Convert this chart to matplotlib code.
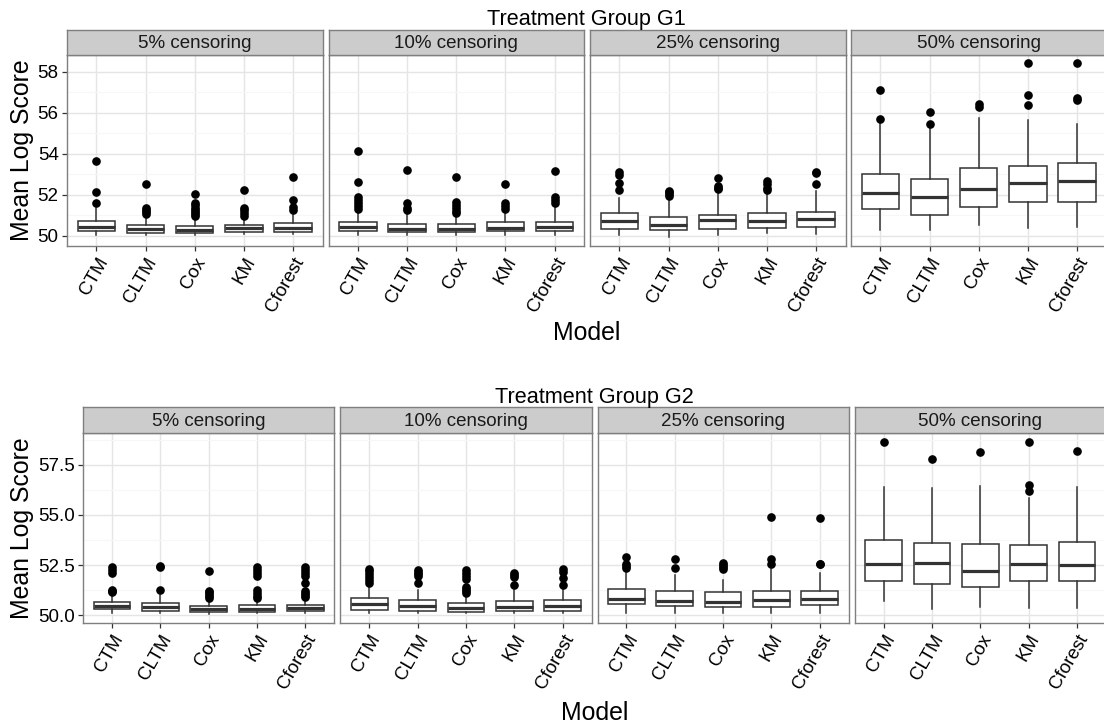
import matplotlib
matplotlib.use("Agg")
import matplotlib.pyplot as plt

plt.rcParams['font.family'] = ['Liberation Sans', 'DejaVu Sans']

# ---------------- data ----------------
models = ["CTM", "CLTM", "Cox", "KM", "Cforest"]
censoring = ["5% censoring", "10% censoring", "25% censoring", "50% censoring"]
group_titles = ["Treatment Group G1", "Treatment Group G2"]

# Treatment group G1: one inner list per censoring level, one value per model
g1_q1 = [[50.22, 50.14, 50.13, 50.18, 50.20],
         [50.24, 50.17, 50.17, 50.23, 50.21],
         [50.34, 50.28, 50.31, 50.39, 50.41],
         [51.29, 51.00, 51.39, 51.64, 51.64]]
g1_med = [[50.43, 50.33, 50.29, 50.37, 50.39],
          [50.44, 50.33, 50.33, 50.39, 50.41],
          [50.73, 50.54, 50.77, 50.73, 50.81],
          [52.07, 51.89, 52.26, 52.56, 52.68]]
g1_q3 = [[50.72, 50.52, 50.46, 50.50, 50.60],
         [50.68, 50.57, 50.57, 50.65, 50.68],
         [51.12, 50.90, 51.02, 51.12, 51.16],
         [53.02, 52.77, 53.30, 53.40, 53.53]]
g1_lo = [[50.05, 50.06, 50.05, 50.08, 50.07],
         [50.03, 50.03, 50.03, 50.03, 50.03],
         [50.02, 49.95, 50.02, 50.12, 50.07],
         [50.28, 50.28, 50.51, 50.39, 50.44]]
g1_hi = [[51.35, 50.98, 50.86, 50.85, 51.15],
         [51.20, 51.05, 51.00, 51.20, 51.45],
         [51.85, 51.74, 52.02, 52.10, 52.17],
         [55.62, 55.40, 55.73, 55.64, 55.43]]
g1_out = [[[51.58, 52.15, 53.65],
           [51.05, 51.15, 51.25, 51.35, 52.50],
           [50.95, 51.05, 51.15, 51.25, 51.35, 51.50, 51.60, 52.05],
           [50.95, 51.10, 51.25, 51.35, 52.25],
           [51.28, 51.40, 51.75, 52.87]],
          [[51.30, 51.45, 51.60, 51.75, 51.90, 52.63, 54.15],
           [51.25, 51.35, 51.60, 53.22],
           [51.10, 51.20, 51.35, 51.50, 51.65, 52.88],
           [51.30, 51.45, 51.60, 52.54],
           [51.60, 51.75, 51.90, 53.17]],
          [[52.23, 52.59, 52.96, 53.12],
           [51.95, 52.05, 52.15, 52.20],
           [52.30, 52.35, 52.45, 52.83],
           [52.25, 52.35, 52.50, 52.65],
           [52.52, 53.04, 53.10]],
          [[55.71, 57.12],
           [55.47, 56.05],
           [56.30, 56.42],
           [56.39, 56.86, 58.44],
           [56.62, 56.72, 58.41]]]

# Treatment group G2
g2_q1 = [[50.30, 50.23, 50.16, 50.18, 50.21],
         [50.26, 50.21, 50.15, 50.21, 50.23],
         [50.56, 50.45, 50.40, 50.43, 50.50],
         [51.71, 51.54, 51.42, 51.72, 51.72]]
g2_med = [[50.46, 50.40, 50.30, 50.33, 50.38],
          [50.55, 50.48, 50.38, 50.43, 50.48],
          [50.80, 50.73, 50.65, 50.76, 50.81],
          [52.57, 52.59, 52.23, 52.54, 52.50]]
g2_q3 = [[50.66, 50.60, 50.46, 50.50, 50.53],
         [50.85, 50.76, 50.60, 50.71, 50.76],
         [51.29, 51.21, 51.15, 51.21, 51.23],
         [53.73, 53.62, 53.57, 53.50, 53.63]]
g2_lo = [[50.13, 50.10, 50.08, 50.10, 50.10],
         [50.10, 50.10, 50.10, 50.10, 50.10],
         [50.13, 50.10, 50.10, 50.13, 50.13],
         [50.71, 50.30, 50.43, 50.38, 50.35]]
g2_hi = [[51.09, 51.00, 50.76, 50.80, 50.82],
         [51.42, 51.26, 51.01, 51.26, 51.42],
         [52.09, 52.00, 51.76, 52.30, 52.09],
         [56.40, 56.35, 56.44, 55.83, 56.40]]
g2_out = [[[51.17, 51.22, 51.27, 52.10, 52.25, 52.42],
           [51.24, 52.38, 52.44],
           [50.85, 50.95, 51.05, 51.15, 51.22, 52.22],
           [50.87, 50.95, 51.10, 51.25, 51.95, 52.10, 52.25, 52.40],
           [50.90, 51.00, 51.10, 51.20, 51.59, 51.95, 52.10, 52.25, 52.40]],
          [[51.60, 51.75, 51.90, 52.05, 52.20, 52.30],
           [51.59, 51.95, 52.05, 52.15, 52.25],
           [51.10, 51.20, 51.30, 51.40, 51.80, 51.95, 52.10, 52.25],
           [51.51, 51.90, 52.00, 52.10],
           [51.51, 51.84, 52.15, 52.30]],
          [[52.37, 52.45, 52.54, 52.92],
           [52.37, 52.80],
           [52.30, 52.40, 52.50, 52.60],
           [52.55, 52.80, 54.91],
           [52.55, 52.57, 54.86]],
          [[58.65],
           [57.80],
           [58.13],
           [56.20, 56.50, 58.65],
           [58.18]]]

g1_yticks = [50, 52, 54, 56, 58]
g1_yticklabels = ["50", "52", "54", "56", "58"]
g2_yticks = [50.0, 52.5, 55.0, 57.5]
g2_yticklabels = ["50.0", "52.5", "55.0", "57.5"]

# ---------------- layout (pixels) ----------------
W, H = 1104, 724
fig = plt.figure(figsize=(W / 100, H / 100), dpi=100)

rows = [
    dict(title=group_titles[0], q1=g1_q1, med=g1_med, q3=g1_q3, lo=g1_lo, hi=g1_hi, out=g1_out,
         yticks=g1_yticks, ylabels=g1_yticklabels, ylim=(49.50, 58.84),
         lefts=[67, 328.5, 590, 851], width=255.5, strip_top=29.5, top=54.5, bottom=246,
         title_y=25.5, xlabel_y=340.5),
    dict(title=group_titles[1], q1=g2_q1, med=g2_med, q3=g2_q3, lo=g2_lo, hi=g2_hi, out=g2_out,
         yticks=g2_yticks, ylabels=g2_yticklabels, ylim=(49.60, 59.08),
         lefts=[83, 340.25, 597.5, 854.75], width=251.25, strip_top=407.3, top=433, bottom=623.3,
         title_y=403.5, xlabel_y=720),
]

BORDER = '#7F7F7F'
DARK = '#333333'


def px_axes(x0, y_top, w, h):
    return fig.add_axes([x0 / W, 1 - (y_top + h) / H, w / W, h / H])


for r in rows:
    lo_y, hi_y = r['ylim']
    for j in range(4):
        x0 = r['lefts'][j]
        ax = px_axes(x0, r['top'], r['width'], r['bottom'] - r['top'])
        stats = []
        for k in range(5):
            stats.append(dict(med=r['med'][j][k], q1=r['q1'][j][k], q3=r['q3'][j][k],
                              whislo=r['lo'][j][k], whishi=r['hi'][j][k],
                              fliers=r['out'][j][k], label=models[k]))
        ax.bxp(stats, positions=range(1, 6), widths=0.76, showcaps=False,
               patch_artist=True, showfliers=True,
               boxprops=dict(facecolor='white', edgecolor=DARK, linewidth=1.1),
               medianprops=dict(color=DARK, linewidth=2.3, solid_capstyle='butt'),
               whiskerprops=dict(color=DARK, linewidth=1.1),
               flierprops=dict(marker='o', markerfacecolor='black', markeredgecolor='black',
                               markersize=5.2, linestyle='none'))
        ax.set_xlim(0.4, 5.6)
        ax.set_ylim(lo_y, hi_y)
        ax.set_xticks(range(1, 6))
        ax.set_xticklabels(models)
        yt = r['yticks']
        step = yt[1] - yt[0]
        ax.set_yticks(yt)
        minors = [v + step / 2 for v in [yt[0] - step] + yt if lo_y < v + step / 2 < hi_y]
        ax.set_yticks(minors, minor=True)
        ax.set_facecolor('white')
        ax.set_axisbelow(True)
        ax.grid(which='major', color='#E5E5E5', linewidth=1.0)
        ax.grid(which='minor', axis='y', color='#F7F7F7', linewidth=0.8)
        for s in ax.spines.values():
            s.set_color(BORDER)
            s.set_linewidth(1.0)
        ax.tick_params(which='major', length=3.8, width=0.9, color=DARK, pad=2.2,
                       labelsize=13.5, labelcolor='black')
        ax.tick_params(which='minor', length=0)
        if j == 0:
            ax.set_yticklabels(r['ylabels'])
        else:
            ax.tick_params(axis='y', left=False, labelleft=False)
        for lab in ax.get_xticklabels():
            lab.set_rotation(60)
            lab.set_ha('right')
            lab.set_va('top')
            lab.set_rotation_mode('anchor')
        # strip
        sax = px_axes(x0, r['strip_top'], r['width'], r['top'] - r['strip_top'])
        sax.set_facecolor('#CCCCCC')
        sax.set_xticks([])
        sax.set_yticks([])
        for s in sax.spines.values():
            s.set_color(BORDER)
            s.set_linewidth(1.0)
        sax.text(0.5, 0.45, censoring[j], transform=sax.transAxes, ha='center', va='center',
                 fontsize=13.5, color='#1A1A1A')
    span_l = r['lefts'][0]
    span_r = r['lefts'][3] + r['width']
    cx = (span_l + span_r) / 2 / W
    fig.text(cx, 1 - r['title_y'] / H, r['title'], ha='center', va='baseline', fontsize=15.6)
    fig.text(cx, 1 - r['xlabel_y'] / H, "Model", ha='center', va='baseline', fontsize=17.9)
    fig.text(22.5 / W, 1 - (r['top'] + r['bottom']) / 2 / H, "Mean Log Score", rotation=90,
             ha='center', va='center', fontsize=17.9)

fig.savefig("out.png", dpi=100)
